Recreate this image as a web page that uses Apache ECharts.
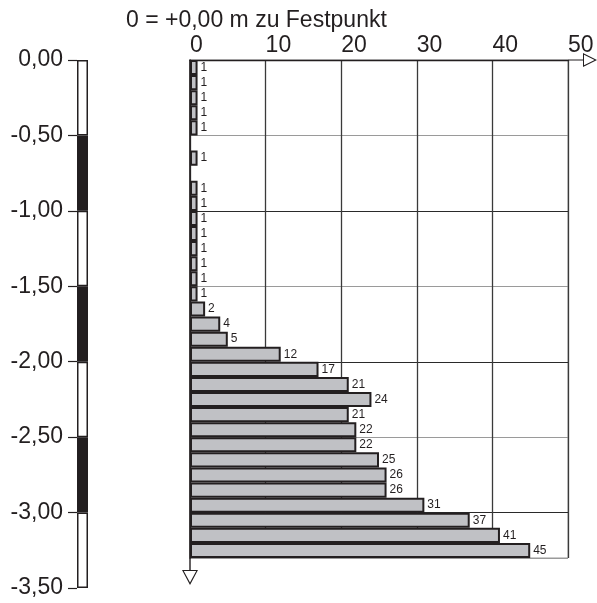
<!DOCTYPE html>
<html>
<head>
<meta charset="utf-8">
<style>
  html, body { margin: 0; padding: 0; background: #fff; }
  #chart { width: 597px; height: 603px; }
</style>
<script src="https://cdn.jsdelivr.net/npm/echarts@6/dist/echarts.min.js"></script>
</head>
<body>
<div id="chart"></div>
<script>
const titleText = '0 = +0,00 m zu Festpunkt';

// 10 cm intervals, top of each interval in m
const depths = [
  '0,0', '0,1', '0,2', '0,3', '0,4', '0,5', '0,6', '0,7', '0,8', '0,9',
  '1,0', '1,1', '1,2', '1,3', '1,4', '1,5', '1,6', '1,7', '1,8', '1,9',
  '2,0', '2,1', '2,2', '2,3', '2,4', '2,5', '2,6', '2,7', '2,8', '2,9',
  '3,0', '3,1', '3,2',
];
// blows per 10 cm
const blows = [
  1, 1, 1, 1, 1, null, 1, null, 1, 1,
  1, 1, 1, 1, 1, 1, 2, 4, 5, 12,
  17, 21, 24, 21, 22, 22, 25, 26, 26, 31,
  37, 41, 45,
];
const blowTicks = [0, 10, 20, 30, 40, 50];

// depth scale on the left
const rulerTicks = [0, -0.5, -1, -1.5, -2, -2.5, -3, -3.5];
const rulerLabels = ['0,00', '-0,50', '-1,00', '-1,50', '-2,00', '-2,50', '-3,00', '-3,50'];
const rulerSegments = [0.5, 0.5, 0.5, 0.5, 0.5, 0.5, 0.5];
const rulerColors = ['#ffffff', '#231f20', '#ffffff', '#231f20', '#ffffff', '#231f20', '#ffffff'];

const ink = '#231f20';
const font = 'Liberation Sans, Arial, sans-serif';

// open triangle with a short stem, pointing "up" = away from the axis
const arrowX = 'path://M7 0L14 14L0 14Z M7 2.4L1.7 13L12.3 13Z M6.4 14L7.6 14L7.6 29L6.4 29Z';
const arrowY = 'path://M8 0L16 15L0 15Z M8 2.4L1.8 14L14.2 14Z M7.3 15L8.7 15L8.7 27L7.3 27Z';

const chart = echarts.init(document.getElementById('chart'), null, { renderer: 'canvas' });

chart.setOption({
  animation: false,
  textStyle: { fontFamily: font, color: ink },
  title: {
    text: titleText,
    left: 121,
    top: 4,
    textStyle: { fontSize: 23, fontWeight: 'normal', color: ink, fontFamily: font },
  },
  grid: [
    {
      left: 190, top: 60, width: 378, height: 498,
      show: true, borderColor: '#999', borderWidth: 1,
      outerBoundsMode: 'none',
    },
    {
      left: 77, top: 60, width: 11, height: 528,
      outerBoundsMode: 'none',
    },
  ],
  xAxis: [
    {
      gridIndex: 0,
      type: 'value',
      position: 'top',
      min: blowTicks[0],
      max: blowTicks[blowTicks.length - 1],
      interval: blowTicks[1] - blowTicks[0],
      axisLine: {
        show: true,
        symbol: ['none', arrowX],
        symbolSize: [14, 29],
        symbolOffset: [0, 14.5],
        lineStyle: { color: ink, width: 1.4 },
      },
      axisTick: { show: false },
      axisLabel: {
        fontSize: 23, color: ink, fontFamily: font,
        align: 'left', margin: 3,
        showMinLabel: true, showMaxLabel: true,
      },
      splitLine: { show: true, lineStyle: { color: '#3a3a3a', width: 1.3 } },
    },
    {
      gridIndex: 1,
      type: 'category',
      data: ['scale'],
      show: false,
    },
  ],
  yAxis: [
    {
      gridIndex: 0,
      type: 'category',
      data: depths,
      inverse: true,
      axisLine: {
        show: true,
        symbol: [arrowY, 'none'],
        symbolSize: [16, 27],
        symbolOffset: [-13.5, 0],
        lineStyle: { color: ink, width: 1.6 },
      },
      axisTick: { show: false },
      axisLabel: { show: false },
      splitLine: {
        show: true,
        interval: idx => idx % 5 === 0,
        lineStyle: { color: ['#2a2a2a', '#9a9a9a'], width: 1.2 },
      },
    },
    {
      gridIndex: 1,
      type: 'value',
      min: rulerTicks[rulerTicks.length - 1],
      max: rulerTicks[0],
      interval: 0.5,
      axisLine: { show: false },
      axisTick: { show: true, length: 9, lineStyle: { color: ink, width: 1.2 } },
      axisLabel: {
        fontSize: 23, color: ink, fontFamily: font, margin: 14,
        formatter: v => rulerLabels[rulerTicks.findIndex(t => Math.abs(t - v) < 1e-6)] || '',
      },
      splitLine: { show: false },
    },
  ],
  series: [
    {
      type: 'bar',
      xAxisIndex: 0,
      yAxisIndex: 0,
      data: blows,
      barWidth: '100%',
      barCategoryGap: 0,
      itemStyle: { color: '#c0c1c5', borderColor: ink, borderWidth: 2 },
      label: {
        show: true,
        position: 'right',
        distance: 3,
        fontSize: 12,
        color: ink,
        fontFamily: font,
      },
      z: 3,
    },
    ...rulerSegments.map((seg, i) => ({
      type: 'bar',
      xAxisIndex: 1,
      yAxisIndex: 1,
      stack: 'scale',
      data: [-seg],
      barWidth: '100%',
      itemStyle: { color: rulerColors[i], borderColor: ink, borderWidth: 1.5 },
      silent: true,
    })),
  ],
});
</script>
</body>
</html>
